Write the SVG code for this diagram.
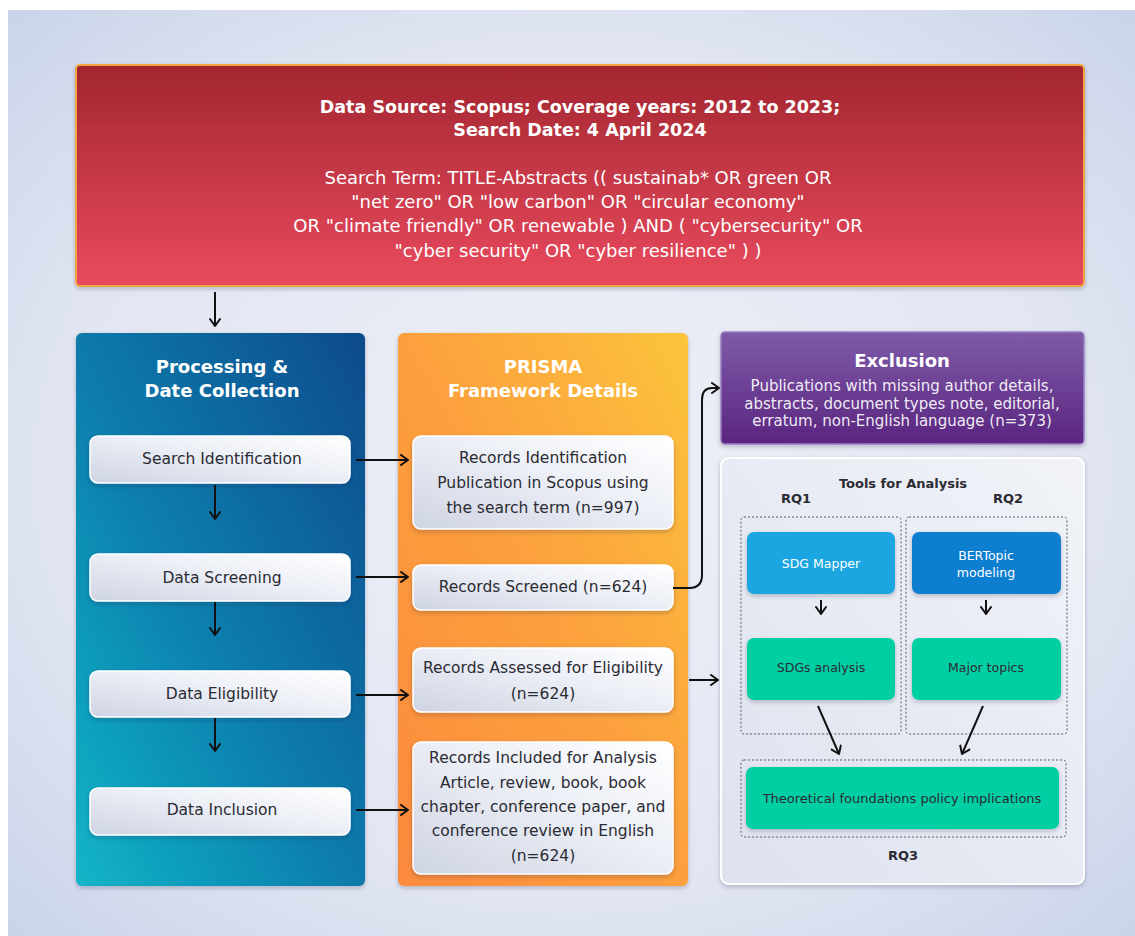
<svg xmlns="http://www.w3.org/2000/svg" width="1135" height="936" viewBox="0 0 1135 936">
  <defs>
    <radialGradient id="bgGrad" cx="0.5" cy="0.5" r="0.75">
      <stop offset="0" stop-color="#eef0f7"/>
      <stop offset="0.6" stop-color="#e2e6f2"/>
      <stop offset="1" stop-color="#c6d0e8"/>
    </radialGradient>
    <linearGradient id="redGrad" x1="0" y1="0" x2="0" y2="1">
      <stop offset="0" stop-color="#a2262f"/>
      <stop offset="1" stop-color="#e94a5e"/>
    </linearGradient>
    <linearGradient id="blueGrad" x1="1" y1="0" x2="0" y2="1">
      <stop offset="0" stop-color="#104a8c"/>
      <stop offset="0.55" stop-color="#0f7fae"/>
      <stop offset="1" stop-color="#12b5c8"/>
    </linearGradient>
    <linearGradient id="orangeGrad" x1="1" y1="0" x2="0" y2="1">
      <stop offset="0" stop-color="#fcc43c"/>
      <stop offset="0.45" stop-color="#fca23c"/>
      <stop offset="1" stop-color="#fc8a3c"/>
    </linearGradient>
    <linearGradient id="purpleGrad" x1="0" y1="0" x2="0" y2="1">
      <stop offset="0" stop-color="#7e5ba8"/>
      <stop offset="1" stop-color="#5a2580"/>
    </linearGradient>
    <linearGradient id="cardGrad" x1="0" y1="1" x2="1" y2="0">
      <stop offset="0" stop-color="#cfd4e3"/>
      <stop offset="0.55" stop-color="#eceff6"/>
      <stop offset="1" stop-color="#ffffff"/>
    </linearGradient>
    <linearGradient id="panelGrad" x1="0" y1="1" x2="1" y2="0">
      <stop offset="0" stop-color="#dde2ee"/>
      <stop offset="1" stop-color="#f1f3f8"/>
    </linearGradient>
    <filter id="shadow" x="-10%" y="-10%" width="120%" height="130%">
      <feDropShadow dx="0" dy="2" stdDeviation="2" flood-color="#1a2340" flood-opacity="0.25"/>
    </filter>
    <marker id="chev" viewBox="0 0 12 12" refX="10" refY="6" markerWidth="12" markerHeight="12" markerUnits="userSpaceOnUse" orient="auto">
      <path d="M3,1 L10,6 L3,11" fill="none" stroke="#111" stroke-width="2" stroke-linecap="round" stroke-linejoin="round"/>
    </marker>
    <style>
      text { font-family: "DejaVu Sans", "Open Sans", sans-serif; }
      .title { font-weight: 700; fill: #ffffff; text-anchor: middle; dominant-baseline: central; }
      .wt { fill: #ffffff; text-anchor: middle; dominant-baseline: central; }
      .dk { fill: #2b2b33; text-anchor: middle; dominant-baseline: central; }
      .card { fill: url(#cardGrad); stroke: #ffffff; stroke-width: 1.5; filter: url(#shadow); }
      .conn { fill: none; stroke: #111; stroke-width: 2; marker-end: url(#chev); }
      .dot { fill: none; stroke: #555a66; stroke-width: 1; stroke-dasharray: 2 2; }
      .tool { filter: url(#shadow); }
      .rq { font-weight: 700; fill: #2b2b33; text-anchor: middle; dominant-baseline: central; font-size: 13px; }
      .ct { font-size: 15.5px; }
    </style>
  </defs>

  <!-- page background -->
  <rect x="0" y="0" width="1135" height="936" fill="#ffffff"/>
  <rect x="8" y="10" width="1127" height="926" fill="url(#bgGrad)"/>

  <!-- data source header -->
  <g id="source">
    <rect x="76" y="65" width="1008" height="221" rx="4" fill="url(#redGrad)" stroke="#f4a640" stroke-width="2" filter="url(#shadow)"/>
    <text class="title" x="580" y="107" font-size="17.5">Data Source: Scopus; Coverage years: 2012 to 2023;</text>
    <text class="title" x="580" y="130" font-size="17.5">Search Date: 4 April 2024</text>
    <text class="wt" x="578" y="177" font-size="18">Search Term: TITLE-Abstracts (( sustainab* OR green OR</text>
    <text class="wt" x="578" y="201" font-size="18">"net zero" OR "low carbon" OR "circular economy"</text>
    <text class="wt" x="578" y="225" font-size="18">OR "climate friendly" OR renewable ) AND ( "cybersecurity" OR</text>
    <text class="wt" x="578" y="250" font-size="18">"cyber security" OR "cyber resilience" ) )</text>
  </g>

  <!-- processing column -->
  <g id="processing">
    <rect x="76" y="333" width="289" height="553" rx="6" fill="url(#blueGrad)" filter="url(#shadow)"/>
    <text class="title" x="222" y="366" font-size="18">Processing &amp;</text>
    <text class="title" x="222" y="390" font-size="18">Date Collection</text>
  </g>
  <g id="search-identification">
    <rect class="card" x="90" y="436" width="260" height="47" rx="8"/>
    <text class="dk ct" x="222" y="459">Search Identification</text>
  </g>
  <g id="data-screening">
    <rect class="card" x="90" y="554" width="260" height="47" rx="8"/>
    <text class="dk ct" x="222" y="578">Data Screening</text>
  </g>
  <g id="data-eligibility">
    <rect class="card" x="90" y="671" width="260" height="46" rx="8"/>
    <text class="dk ct" x="222" y="694">Data Eligibility</text>
  </g>
  <g id="data-inclusion">
    <rect class="card" x="90" y="788" width="260" height="47" rx="8"/>
    <text class="dk ct" x="222" y="810">Data Inclusion</text>
  </g>

  <!-- PRISMA column -->
  <g id="prisma">
    <rect x="398" y="333" width="290" height="553" rx="6" fill="url(#orangeGrad)" filter="url(#shadow)"/>
    <text class="title" x="543" y="366" font-size="18">PRISMA</text>
    <text class="title" x="543" y="390" font-size="18">Framework Details</text>
  </g>
  <g id="records-identification">
    <rect class="card" x="413" y="436" width="260" height="93" rx="8"/>
    <text class="dk ct" x="543" y="458">Records Identification</text>
    <text class="dk ct" x="543" y="483">Publication in Scopus using</text>
    <text class="dk ct" x="543" y="508">the search term (n=997)</text>
  </g>
  <g id="records-screened">
    <rect class="card" x="413" y="565" width="260" height="45" rx="8"/>
    <text class="dk ct" x="543" y="587">Records Screened (n=624)</text>
  </g>
  <g id="records-assessed">
    <rect class="card" x="413" y="648" width="260" height="64" rx="8"/>
    <text class="dk ct" x="543" y="668">Records Assessed for Eligibility</text>
    <text class="dk ct" x="543" y="694">(n=624)</text>
  </g>
  <g id="records-included">
    <rect class="card" x="413" y="742" width="260" height="132" rx="8"/>
    <text class="dk ct" x="543" y="758">Records Included for Analysis</text>
    <text class="dk ct" x="543" y="783">Article, review, book, book</text>
    <text class="dk ct" x="543" y="807">chapter, conference paper, and</text>
    <text class="dk ct" x="543" y="831">conference review in English</text>
    <text class="dk ct" x="543" y="856">(n=624)</text>
  </g>

  <!-- exclusion -->
  <g id="exclusion">
    <rect x="721" y="332" width="363" height="112" rx="4" fill="url(#purpleGrad)" stroke="#9b80c2" stroke-width="1.5" filter="url(#shadow)"/>
    <text class="title" x="902" y="360" font-size="18">Exclusion</text>
    <text class="wt" x="902" y="386" font-size="15" fill-opacity="0.92">Publications with missing author details,</text>
    <text class="wt" x="902" y="404" font-size="15" fill-opacity="0.92">abstracts, document types note, editorial,</text>
    <text class="wt" x="902" y="421" font-size="15" fill-opacity="0.92">erratum, non-English language (n=373)</text>
  </g>

  <!-- tools for analysis -->
  <g id="tools">
    <rect x="721" y="458" width="363" height="426" rx="8" fill="url(#panelGrad)" stroke="#ffffff" stroke-width="2" filter="url(#shadow)"/>
    <text class="rq" x="903" y="483">Tools for Analysis</text>
    <text class="rq" x="796" y="498">RQ1</text>
    <text class="rq" x="1008" y="498">RQ2</text>
    <rect class="dot" x="741" y="517" width="160" height="217" rx="3"/>
    <rect class="dot" x="906" y="517" width="161" height="217" rx="3"/>
    <rect class="dot" x="741" y="760" width="325" height="77" rx="3"/>
    <text class="rq" x="903" y="855">RQ3</text>
  </g>
  <g id="sdg-mapper">
    <rect class="tool" x="747" y="532" width="148" height="62" rx="7" fill="#1aa6e1"/>
    <text class="wt" x="821" y="563" font-size="12.5">SDG Mapper</text>
  </g>
  <g id="bertopic">
    <rect class="tool" x="912" y="532" width="149" height="62" rx="7" fill="#0b7ed0"/>
    <text class="wt" x="986" y="555" font-size="12.5">BERTopic</text>
    <text class="wt" x="986" y="572" font-size="12.5">modeling</text>
  </g>
  <g id="sdgs-analysis">
    <rect class="tool" x="747" y="638" width="148" height="62" rx="7" fill="#05cfa4"/>
    <text class="dk" x="821" y="667" font-size="12.5">SDGs analysis</text>
  </g>
  <g id="major-topics">
    <rect class="tool" x="912" y="638" width="149" height="62" rx="7" fill="#05cfa4"/>
    <text class="dk" x="986" y="667" font-size="12.5">Major topics</text>
  </g>
  <g id="theoretical">
    <rect class="tool" x="746" y="767" width="313" height="62" rx="7" fill="#05cfa4"/>
    <text class="dk" x="902" y="798" font-size="13">Theoretical foundations policy implications</text>
  </g>

  <!-- connectors -->
  <g id="connectors">
    <line class="conn" x1="215" y1="292" x2="215" y2="326"/>
    <line class="conn" x1="215" y1="485" x2="215" y2="519"/>
    <line class="conn" x1="215" y1="602" x2="215" y2="635"/>
    <line class="conn" x1="215" y1="718" x2="215" y2="751"/>
    <line class="conn" x1="356" y1="460" x2="408" y2="460"/>
    <line class="conn" x1="356" y1="577" x2="408" y2="577"/>
    <line class="conn" x1="356" y1="695" x2="408" y2="695"/>
    <line class="conn" x1="356" y1="810" x2="408" y2="810"/>
    <path class="conn" d="M673,588 H689 Q702,588 702,575 V400 Q702,388 712,388 H719"/>
    <line class="conn" x1="689" y1="680" x2="718" y2="680"/>
    <line class="conn" x1="821" y1="600" x2="821" y2="614"/>
    <line class="conn" x1="986" y1="600" x2="986" y2="614"/>
    <line class="conn" x1="818" y1="706" x2="839" y2="754"/>
    <line class="conn" x1="983" y1="706" x2="962" y2="754"/>
  </g>
</svg>
